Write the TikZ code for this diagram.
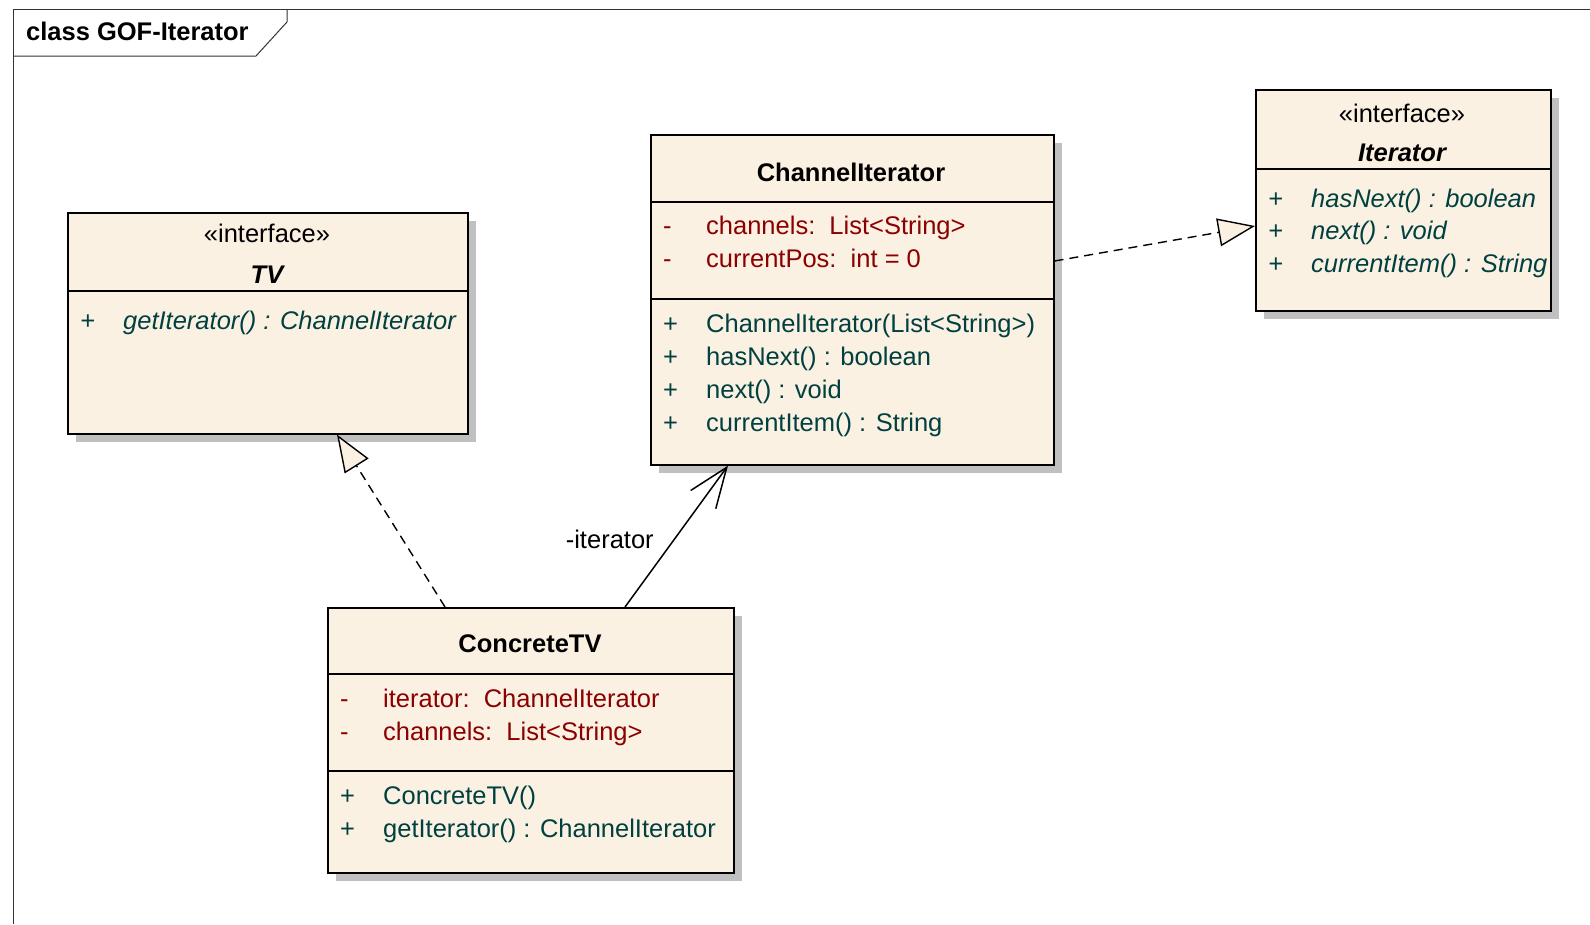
\documentclass[tikz,border=0pt]{standalone}
\usepackage{fontspec}
\setmainfont{Liberation Sans}
\usepackage{tikz}
\usetikzlibrary{calc}
\usetikzlibrary{shadows}
\usetikzlibrary{arrows.meta}
\usetikzlibrary{positioning}

\definecolor{classfill}{RGB}{251,241,227}
\definecolor{attrred}{RGB}{139,0,0}
\definecolor{opteal}{RGB}{0,64,64}
\definecolor{shadowgray}{RGB}{192,192,192}
\newcommand{\vis}[1]{\makebox[43pt][l]{#1}}

\tikzset{
  umlfont/.style={font=\fontsize{25.5}{33}\selectfont},
  classbox/.style={draw, line width=1.6pt, fill=classfill, anchor=north west, inner sep=0pt,
    drop shadow={shadow xshift=8pt, shadow yshift=-8pt, fill=shadowgray, opacity=1}},
  compline/.style={line width=1.6pt},
  attrs/.style={umlfont, text=attrred, anchor=base west, inner sep=0pt},
  opers/.style={umlfont, text=opteal, anchor=base west, inner sep=0pt},
  stereo/.style={umlfont, anchor=base, inner sep=0pt},
  classname/.style={font=\fontsize{25.5}{33}\selectfont\bfseries, anchor=base, inner sep=0pt},
  abstractname/.style={font=\fontsize{25.5}{33}\selectfont\bfseries\itshape, anchor=base, inner sep=0pt},
  realize/.style={line width=1.4pt, dash pattern=on 9pt off 6pt,
    -{Triangle[length=37pt,width=28pt,fill=classfill]}},
  assoc/.style={line width=1.5pt, -{Straight Barb[length=40pt,width=31pt]}},
}

\begin{document}
\begin{tikzpicture}[x=1pt,y=-1pt]
\useasboundingbox (0,0) rectangle (1590,924);
% frame
\draw[line width=1pt, black!80] (13,924) -- (13,9) -- (1590,9);
\draw[line width=1pt, black!80] (13,56) -- (256,56) -- (287,22) -- (287,9);
\node[font=\fontsize{25.5}{30}\selectfont\bfseries, anchor=base west, inner sep=0pt] (frametitle) at (26,40) {class GOF-Iterator};

% TV
\node[classbox, minimum width=400pt, minimum height=221pt] (tv) at (67,212) {};
\draw[compline] (tv.west |- 0,291) -- (tv.east |- 0,291);
\node[stereo] (tvstereo) at (267,242) {«interface»};
\node[abstractname] (tvname) at (267,283) {TV};
\node[opers, font=\fontsize{25.5}{33}\selectfont\itshape] (tvops) at (80,329) {\begin{tabular}[t]{@{}l@{}}
  \vis{+}getIterator() : ChannelIterator
\end{tabular}};

% ChannelIterator
\node[classbox, minimum width=403pt, minimum height=330pt] (ci) at (650,134) {};
\draw[compline] (ci.west |- 0,202) -- (ci.east |- 0,202);
\draw[compline] (ci.west |- 0,299) -- (ci.east |- 0,299);
\node[classname] (ciname) at (851,181) {ChannelIterator};
\node[attrs] (ciattrs) at (663,234) {\begin{tabular}[t]{@{}l@{}}
  \vis{-}channels:~~List<String>\\
  \vis{-}currentPos:~~int = 0
\end{tabular}};
\node[opers] (ciops) at (663,332) {\begin{tabular}[t]{@{}l@{}}
  \vis{+}ChannelIterator(List<String>)\\
  \vis{+}hasNext() : boolean\\
  \vis{+}next() : void\\
  \vis{+}currentItem() : String
\end{tabular}};

% Iterator
\node[classbox, minimum width=295pt, minimum height=221pt] (it) at (1255,89) {};
\draw[compline] (it.west |- 0,169) -- (it.east |- 0,169);
\node[stereo] (itstereo) at (1402,122) {«interface»};
\node[abstractname] (itname) at (1402,161) {Iterator};
\node[opers, font=\fontsize{25.5}{32.5}\selectfont\itshape] (itops) at (1268,207) {\begin{tabular}[t]{@{}l@{}}
  \vis{+}hasNext() : boolean\\
  \vis{+}next() : void\\
  \vis{+}currentItem() : String
\end{tabular}};

% ConcreteTV
\node[classbox, minimum width=406pt, minimum height=265pt] (ctv) at (327,607) {};
\draw[compline] (ctv.west |- 0,674) -- (ctv.east |- 0,674);
\draw[compline] (ctv.west |- 0,771) -- (ctv.east |- 0,771);
\node[classname] (ctvname) at (530,652) {ConcreteTV};
\node[attrs] (ctvattrs) at (340,707) {\begin{tabular}[t]{@{}l@{}}
  \vis{-}iterator:~~ChannelIterator\\
  \vis{-}channels:~~List<String>
\end{tabular}};
\node[opers] (ctvops) at (340,804) {\begin{tabular}[t]{@{}l@{}}
  \vis{+}ConcreteTV()\\
  \vis{+}getIterator() : ChannelIterator
\end{tabular}};

% relations
\draw[realize] (ctv.north -| 445,0) -- (tv.south -| 337,0);
\draw[assoc] (ctv.north -| 625,0) -- (ci.south -| 728,0)
  node[pos=0.48, anchor=east, xshift=-20pt, inner sep=0pt, umlfont] (itrole) {-iterator};
\draw[realize] (ci.east |- 0,261) -- (it.west |- 0,226);
\end{tikzpicture}
\end{document}
